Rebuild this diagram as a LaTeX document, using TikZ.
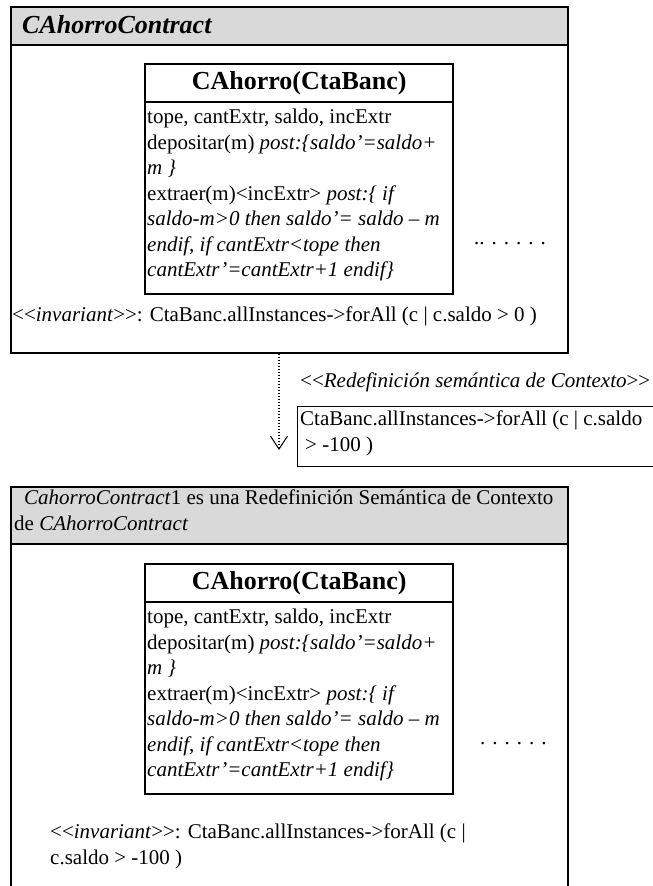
\documentclass[tikz,border=0pt]{standalone}
\usepackage{fontspec}
\newfontfamily\tnr{Liberation Serif}
\usetikzlibrary{arrows.meta,positioning}
\definecolor{hdrgray}{HTML}{D9D9D9}
\tikzstyle{panel} = [draw, line width=1.8pt, inner sep=0pt, anchor=north west]
\tikzstyle{hdr} = [draw, line width=1.8pt, fill=hdrgray, inner sep=0pt, anchor=north west]
\tikzstyle{classbox} = [draw, line width=2.4pt, inner sep=0pt, anchor=north west]
\tikzstyle{txt} = [inner sep=0pt, font=\tnr\fontsize{21}{25.5}\selectfont]
\tikzstyle{big} = [inner sep=0pt, font=\tnr\fontsize{26}{30}\selectfont\bfseries]
\tikzstyle{redef} = [line width=1.2pt, dash pattern=on 1.2pt off 1.8pt, -{Straight Barb[length=13pt,width=17pt,line width=1pt]}]
\newcommand\ahorroops{tope, cantExtr, saldo, incExtr\\
depositar(m) \textit{post:\{saldo’=saldo+}\\
\textit{m \}}\\
extraer(m)<incExtr> \textit{post:\{ if}\\
\textit{saldo-m>0 then saldo’= saldo – m}\\
\textit{endif, if cantExtr<tope then}\\
\textit{cantExtr’=cantExtr+1 endif\}}}

\begin{document}
\begin{tikzpicture}[x=1pt,y=-1pt]
\clip (0,0) rectangle (653,886);
% contrato original
\node[panel, minimum width=557pt, minimum height=346pt] (cont1) at (10,6) {};
\node[hdr, minimum width=557pt, minimum height=38pt] (head1) at (10,6) {};
\node[big, anchor=west] (name1) at (22,25) {\textit{CAhorroContract}};
\node[classbox, minimum width=308pt, minimum height=230pt] (cls1) at (144,63) {};
\node[classbox, minimum width=308pt, minimum height=38pt] (clshead1) at (144,63) {};
\node[big] (clsname1) at (clshead1.center) {CAhorro(CtaBanc)};
\node[txt, align=left, anchor=north west] (ops1) at (147,109) {\ahorroops};
\node[txt, anchor=west] (more1) at (474,244) {.. . . . . .};
\node[txt, anchor=north west] (inv1) at (12,307) {<<\textit{invariant}>>: CtaBanc.allInstances->forAll (c | c.saldo > 0 )};
% redefinicion
\coordinate (tip) at (279,450);
\draw[redef] (cont1.south -| tip) -- (tip);
\node[txt, anchor=west] (redeflbl) at (300,382) {<<\textit{Redefinición semántica de Contexto}>>};
\node[draw, line width=1.2pt, inner sep=0pt, minimum width=500pt, minimum height=60pt, anchor=north west] (note) at (297,406) {};
\node[txt, align=left, anchor=north west] (notetxt) at (300,411) {CtaBanc.allInstances->forAll (c | c.saldo\\ \hspace*{5pt}> -100 )};
% contrato redefinido
\node[panel, minimum width=557pt, minimum height=420pt] (cont2) at (10,486) {};
\node[hdr, minimum width=557pt, minimum height=57pt] (head2) at (10,486) {};
\node[txt, align=left, anchor=north west] (name2) at (14,490) {\hspace*{10pt}\textit{CahorroContract}1 es una Redefinición Semántica de Contexto\\ de \textit{CAhorroContract}};
\node[classbox, minimum width=308pt, minimum height=230pt] (cls2) at (144,563) {};
\node[classbox, minimum width=308pt, minimum height=38pt] (clshead2) at (144,563) {};
\node[big] (clsname2) at (clshead2.center) {CAhorro(CtaBanc)};
\node[txt, align=left, anchor=north west] (ops2) at (147,609) {\ahorroops};
\node[txt, anchor=west] (more2) at (480,744) {. . . . . .};
\node[txt, align=left, anchor=north west] (inv2) at (50,824) {<<\textit{invariant}>>: CtaBanc.allInstances->forAll (c |\\ c.saldo > -100 )};
\end{tikzpicture}
\end{document}
